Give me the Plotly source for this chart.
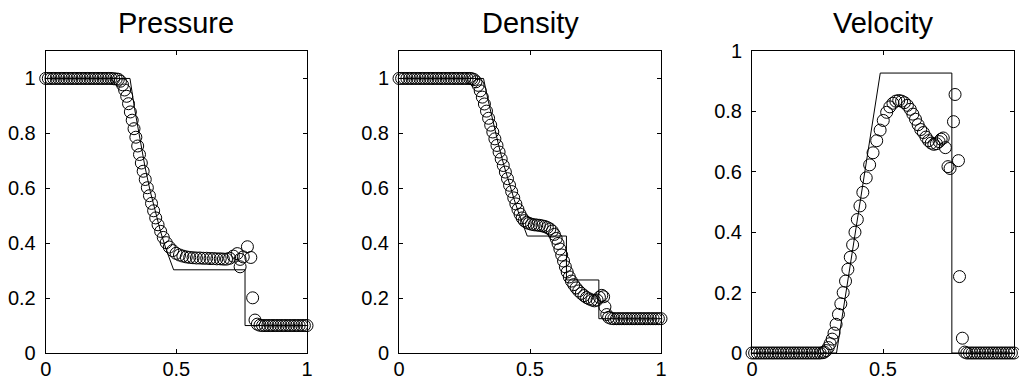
import plotly.graph_objects as go

# ---------------- numerical (circles) ----------------
x_p = [0.00,0.01,0.02,0.03,0.04,0.05,0.06,0.07,0.08,0.09,0.10,0.11,0.12,0.13,0.14,0.15,0.16,0.17,0.18,0.19,
       0.20,0.21,0.22,0.23,0.24,0.25,0.26,0.27,
       0.278,0.286,0.294,0.302,0.310,0.317,0.324,0.331,0.338,0.345,0.352,0.359,0.366,0.373,0.381,0.389,0.397,
       0.405,0.413,0.421,0.430,0.440,0.450,0.461,0.473,0.486,0.499,0.512,0.525,
       0.538,0.551,0.564,0.577,0.590,0.603,0.616,0.629,0.642,0.655,0.668,0.680,0.692,0.704,0.718,0.733,
       0.744,0.744,0.756,0.772,0.785,0.792,0.801,0.810,0.820,
       0.83,0.84,0.85,0.86,0.87,0.88,0.89,0.90,0.91,0.92,0.93,0.94,0.95,0.96,0.97,0.98,0.99,1.00]
p_num = [1.0,1.0,1.0,1.0,1.0,1.0,1.0,1.0,1.0,1.0,1.0,1.0,1.0,1.0,1.0,1.0,1.0,1.0,1.0,1.0,
         1.0,1.0,1.0,1.0,1.0,1.0,0.999,0.998,
         0.997,0.990,0.977,0.958,0.935,0.908,0.878,0.848,0.817,0.786,0.754,0.723,0.692,0.662,0.632,0.602,0.573,
         0.545,0.518,0.492,0.467,0.443,0.421,0.402,0.386,0.373,0.363,0.357,0.353,
         0.350,0.348,0.347,0.346,0.346,0.345,0.345,0.344,0.344,0.343,0.343,0.342,0.342,0.345,0.353,0.362,
         0.341,0.314,0.350,0.387,0.348,0.201,0.120,0.105,0.101,
         0.1,0.1,0.1,0.1,0.1,0.1,0.1,0.1,0.1,0.1,0.1,0.1,0.1,0.1,0.1,0.1,0.1,0.1]

x_rho = [0.00,0.01,0.02,0.03,0.04,0.05,0.06,0.07,0.08,0.09,0.10,0.11,0.12,0.13,0.14,0.15,0.16,0.17,0.18,0.19,
         0.20,0.21,0.22,0.23,0.24,0.25,0.26,0.27,
         0.278,0.286,0.294,0.302,0.310,0.318,0.326,0.334,0.342,0.350,0.358,0.366,0.374,0.382,0.390,0.398,
         0.406,0.414,0.422,0.430,0.438,0.446,0.454,0.462,0.470,0.478,0.487,0.496,0.506,0.516,0.526,0.536,
         0.546,0.556,0.566,0.576,0.585,0.593,0.600,0.607,0.614,0.621,0.628,0.635,0.642,0.650,0.658,0.667,
         0.676,0.686,0.696,0.706,0.716,0.726,0.736,0.746,0.756,0.765,0.774,0.781,0.786,0.793,0.800,0.810,
         0.82,0.83,0.84,0.85,0.86,0.87,0.88,0.89,0.90,0.91,0.92,0.93,0.94,0.95,0.96,0.97,0.98,0.99,1.00]
rho_num = [1.0,1.0,1.0,1.0,1.0,1.0,1.0,1.0,1.0,1.0,1.0,1.0,1.0,1.0,1.0,1.0,1.0,1.0,1.0,1.0,
           1.0,1.0,1.0,1.0,1.0,1.0,1.0,1.0,
           0.999,0.996,0.988,0.975,0.955,0.932,0.907,0.881,0.855,0.830,0.805,0.780,0.756,0.732,0.707,0.683,
           0.659,0.635,0.611,0.588,0.565,0.543,0.523,0.506,0.492,0.482,0.476,0.472,0.469,0.467,0.466,0.465,
           0.463,0.461,0.457,0.452,0.444,0.432,0.417,0.399,0.379,0.357,0.335,0.314,0.295,0.277,0.262,0.249,
           0.237,0.226,0.217,0.209,0.202,0.197,0.193,0.190,0.193,0.203,0.210,0.205,0.168,0.140,0.130,0.126,
           0.125,0.125,0.125,0.125,0.125,0.125,0.125,0.125,0.125,0.125,0.125,0.125,0.125,0.125,0.125,0.125,
           0.125,0.125,0.125]

x_u = [0.00,0.01,0.02,0.03,0.04,0.05,0.06,0.07,0.08,0.09,0.10,0.11,0.12,0.13,0.14,0.15,0.16,0.17,0.18,0.19,
       0.20,0.21,0.22,0.23,0.24,0.25,0.26,0.27,
       0.276,0.283,0.291,0.298,0.306,0.313,0.321,0.330,0.339,0.348,0.357,0.366,0.375,0.384,0.393,0.402,
       0.412,0.423,0.436,0.449,0.462,0.476,0.489,0.501,0.514,0.526,0.538,0.549,0.560,0.571,0.582,0.593,
       0.604,0.614,0.624,0.634,0.644,0.654,0.664,0.674,0.684,0.694,0.704,0.714,0.722,0.730,0.738,
       0.748,0.756,0.769,0.775,0.788,0.792,0.803,0.812,
       0.82,0.83,0.84,0.85,0.86,0.87,0.88,0.89,0.90,0.91,0.92,0.93,0.94,0.95,0.96,0.97,0.98,0.99,1.00]
u_num = [0.0,0.0,0.0,0.0,0.0,0.0,0.0,0.0,0.0,0.0,0.0,0.0,0.0,0.0,0.0,0.0,0.0,0.0,0.0,0.0,
         0.0,0.0,0.0,0.0,0.0,0.0,0.0,0.001,
         0.003,0.008,0.018,0.031,0.046,0.066,0.095,0.128,0.163,0.200,0.238,0.277,0.317,0.358,0.400,0.442,
         0.487,0.532,0.580,0.623,0.663,0.703,0.738,0.770,0.797,0.815,0.827,0.834,0.836,0.834,0.829,0.820,
         0.807,0.791,0.774,0.756,0.740,0.730,0.715,0.703,0.695,0.691,0.693,0.700,0.708,0.712,0.680,
         0.617,0.611,0.766,0.856,0.637,0.253,0.049,0.003,
         0.0,0.0,0.0,0.0,0.0,0.0,0.0,0.0,0.0,0.0,0.0,0.0,0.0,0.0,0.0,0.0,0.0,0.0,0.0]

# ---------------- exact solution (lines) ----------------
ex_x_p = [0.0,0.3225,0.34,0.36,0.38,0.40,0.42,0.44,0.46,0.48,0.4895,0.7628,0.7628,1.0]
ex_p = [1.0,1.0,0.891,0.779,0.678,0.589,0.511,0.441,0.380,0.326,0.303,0.303,0.1,0.1]

ex_x_rho = [0.0,0.3225,0.34,0.36,0.38,0.40,0.42,0.44,0.46,0.48,0.4895,0.6391,0.6391,0.7628,0.7628,1.0]
ex_rho = [1.0,1.0,0.921,0.836,0.758,0.685,0.619,0.558,0.501,0.449,0.426,0.426,0.266,0.266,0.125,0.125]

ex_x_u = [0.0,0.3225,0.4895,0.7628,0.7628,1.0]
ex_u = [0.0,0.0,0.927,0.927,0.0,0.0]

titles = ["Pressure", "Density", "Velocity"]
panels = [(x_p, p_num, ex_x_p, ex_p, 1.1),
          (x_rho, rho_num, ex_x_rho, ex_rho, 1.1),
          (x_u, u_num, ex_x_u, ex_u, 1.0)]

W, H = 1019, 387
x_domains = [(45.7 / W, 307.0 / W), (399.0 / W, 661.0 / W), (752.0 / W, 1014.0 / W)]
y_domain = (1 - 353.0 / H, 1 - 51.0 / H)

fig = go.Figure()
font_family = "Arial, Liberation Sans, Helvetica, sans-serif"

for i, (xn, yn, xe, ye, ymax) in enumerate(panels):
    k = "" if i == 0 else str(i + 1)
    fig.add_trace(go.Scatter(x=xe, y=ye, mode="lines", line=dict(color="black", width=1),
                             xaxis="x" + k, yaxis="y" + k, showlegend=False, cliponaxis=False,
                             hoverinfo="skip"))
    fig.add_trace(go.Scatter(x=xn, y=yn, mode="markers",
                             marker=dict(symbol="circle-open", size=12, color="black",
                                         line=dict(width=1, color="black")),
                             xaxis="x" + k, yaxis="y" + k, showlegend=False, cliponaxis=False,
                             hoverinfo="skip"))
    axcommon = dict(showline=True, linecolor="black", linewidth=1, mirror="allticks",
                    ticks="inside", ticklen=4, tickcolor="black", tickwidth=1,
                    showgrid=False, zeroline=False, automargin=False,
                    tickfont=dict(family=font_family, size=20, color="black"))
    fig.update_layout(**{
        "xaxis" + k: dict(domain=list(x_domains[i]), range=[0, 1], anchor="y" + k,
                          tickvals=[0, 0.5, 1], ticktext=["0", "0.5", "1"],
                          ticklabelstandoff=-2, **axcommon),
        "yaxis" + k: dict(domain=list(y_domain), range=[0, ymax], anchor="x" + k,
                          tickvals=[0, 0.2, 0.4, 0.6, 0.8, 1.0],
                          ticktext=["0", "0.2", "0.4", "0.6", "0.8", "1"],
                          ticklabelstandoff=5, **axcommon),
    })
    fig.add_annotation(text=titles[i], xref="paper", yref="paper",
                       x=(x_domains[i][0] + x_domains[i][1]) / 2, y=1 - 23.0 / H,
                       xanchor="center", yanchor="middle", showarrow=False,
                       font=dict(family=font_family, size=29, color="black"))

fig.update_layout(template="none", width=W, height=H,
                  margin=dict(l=0, r=0, t=0, b=0, autoexpand=False),
                  paper_bgcolor="white", plot_bgcolor="white", autosize=False)

fig.write_html("out.html", config={"displayModeBar": False, "staticPlot": True},
               post_script="document.body.style.margin='0px';document.body.style.padding='0px';document.body.style.overflow='hidden';")
